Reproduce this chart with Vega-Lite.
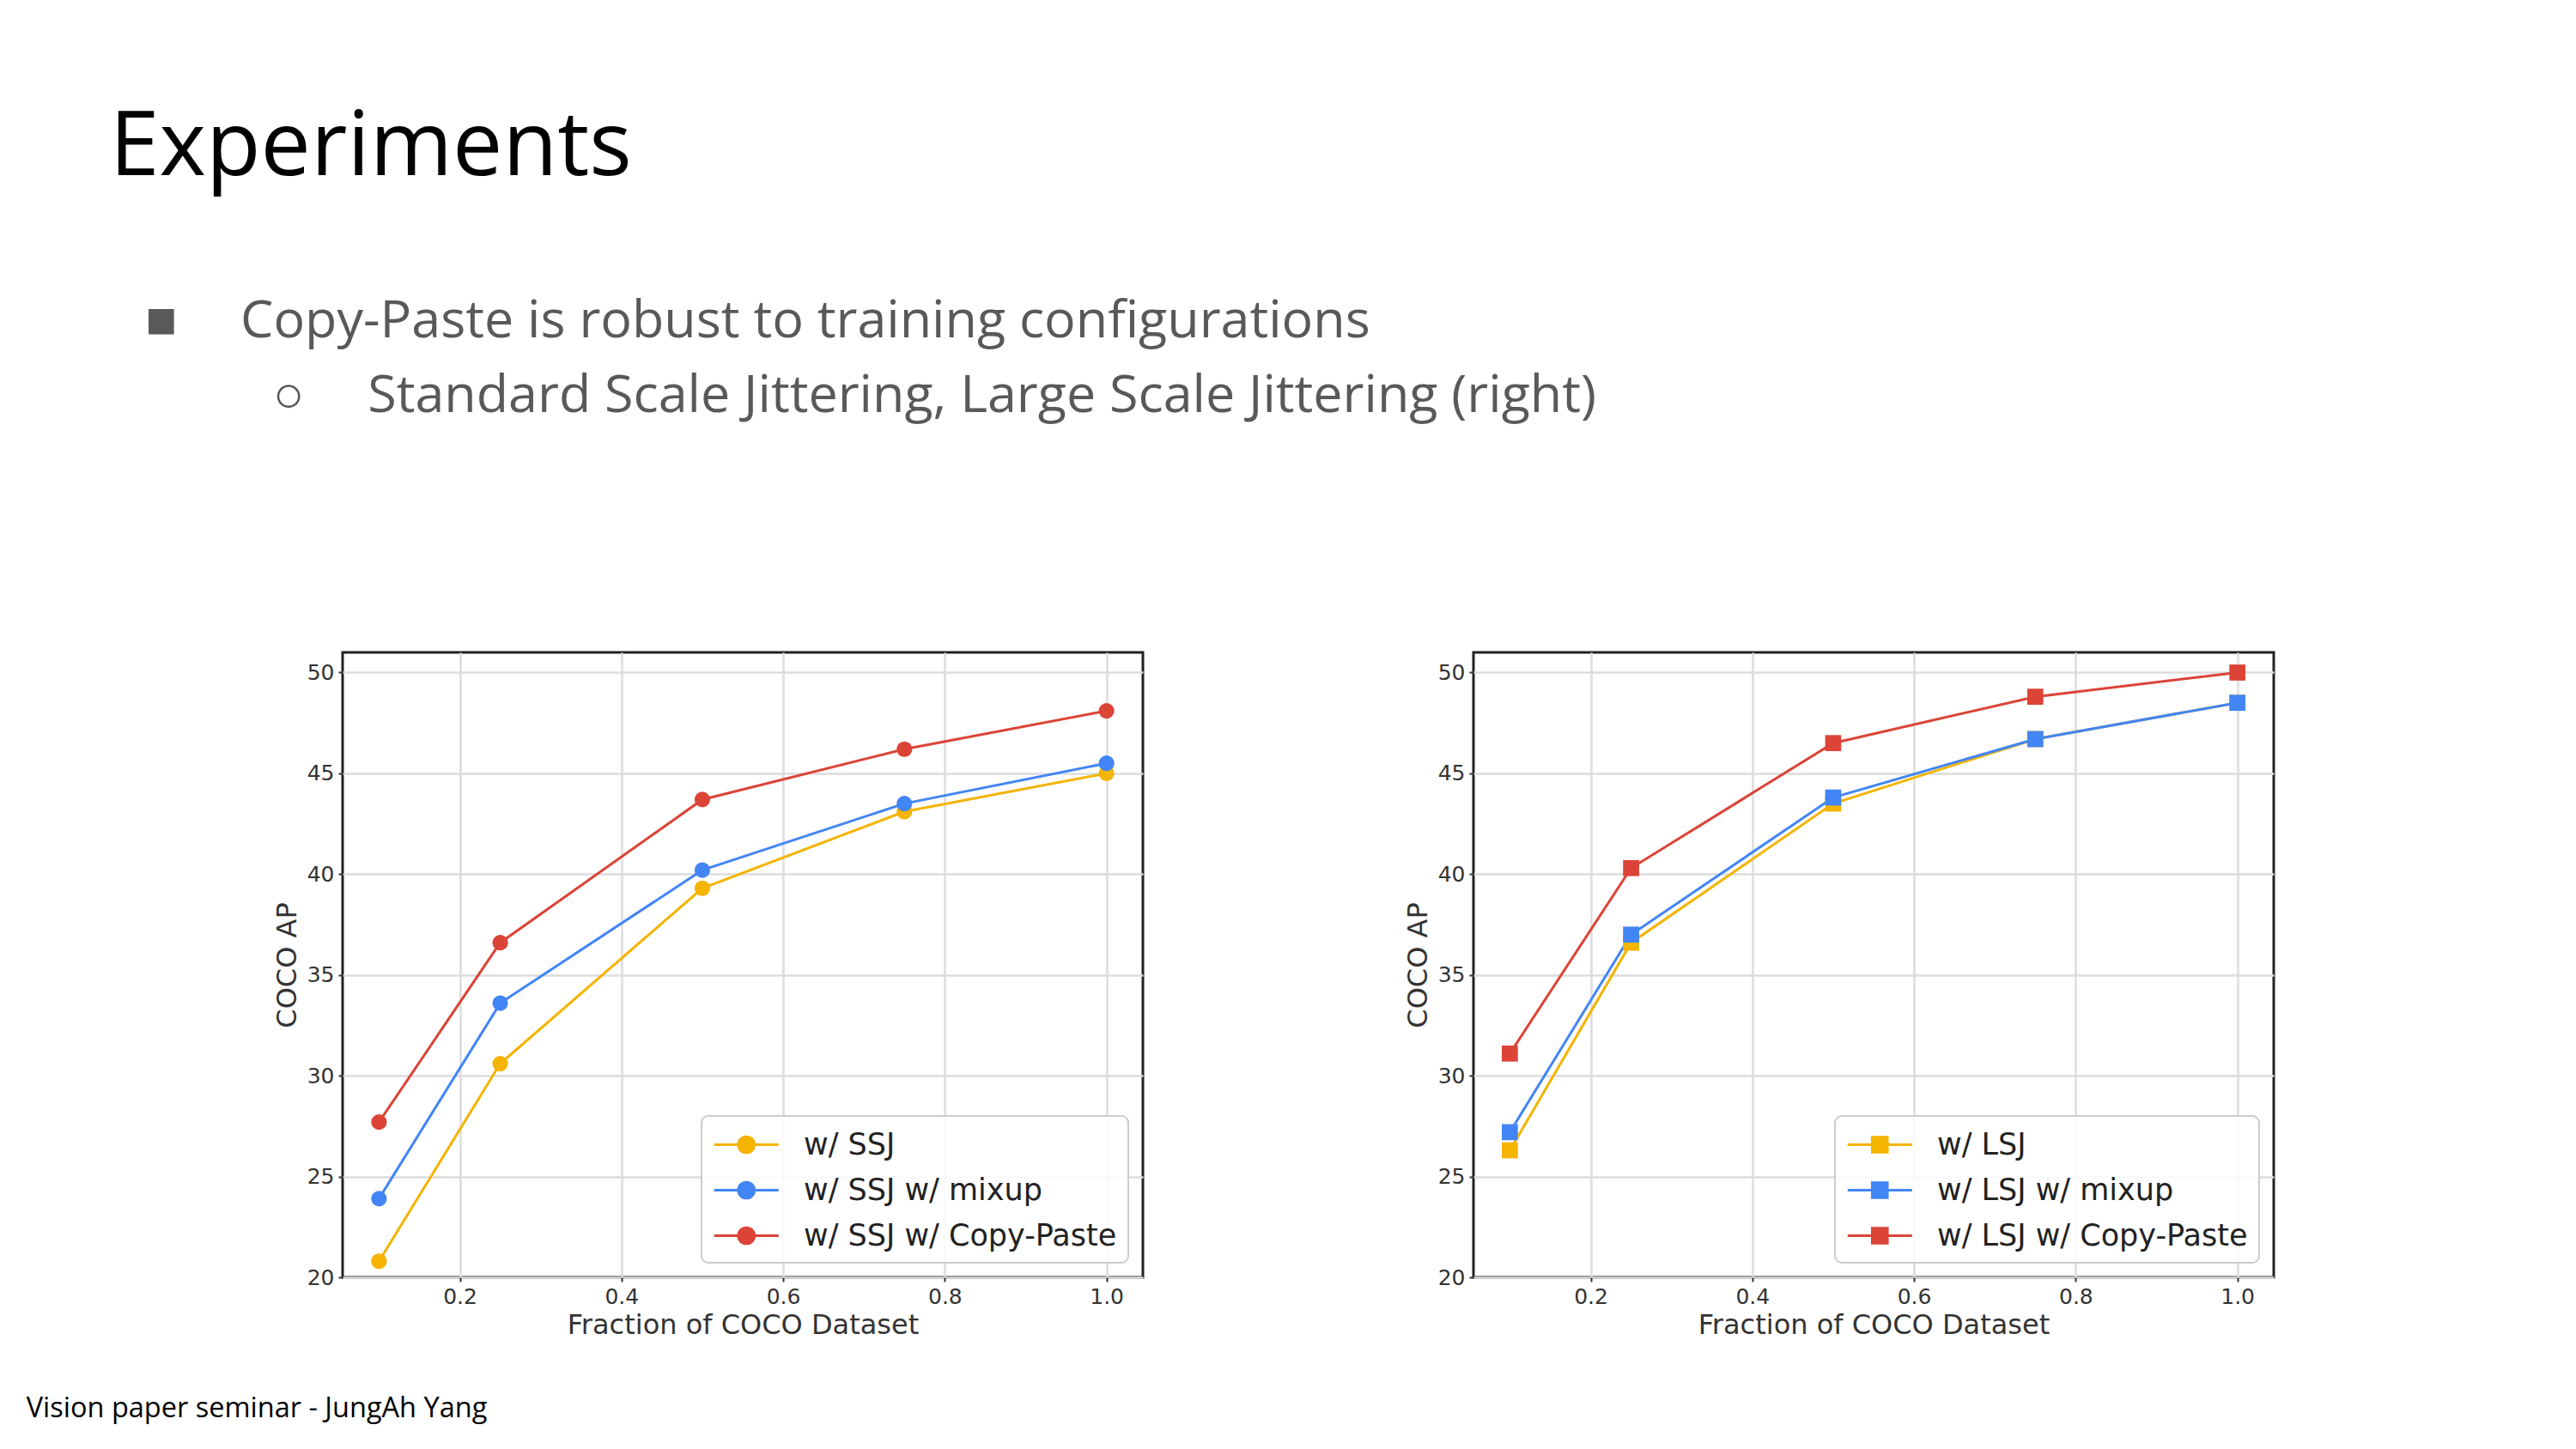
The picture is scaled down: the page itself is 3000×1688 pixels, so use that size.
{
  "$schema": "https://vega.github.io/schema/vega-lite/v6.json",
  "background": "white",
  "padding": {"left": 30, "top": 120, "right": 10, "bottom": 5},
  "title": {
    "text": "Experiments",
    "subtitle": ["\u200b\u00a0\u00a0\u2006■\u00a0\u00a0\u00a0\u00a0\u2006Copy-Paste is robust to training configurations", "\u200b\u00a0\u00a0\u00a0\u00a0\u00a0\u00a0\u00a0\u00a0\u00a0\u00a0\u00a0\u00a0○\u00a0\u00a0\u00a0\u00a0\u2006Standard Scale Jittering, Large Scale Jittering (right)"],
    "anchor": "start",
    "frame": "bounds",
    "font": "Open Sans",
    "fontSize": 104,
    "fontWeight": "normal",
    "color": "#000000",
    "subtitleFont": "Open Sans",
    "subtitleFontSize": 61,
    "subtitleColor": "#595959",
    "subtitleLineHeight": 87,
    "subtitlePadding": 119,
    "offset": 266,
    "dx": 97
  },
  "datasets": {
    "ssj": [
      {"series": "w/ SSJ", "frac": 0.1, "ap": 20.8},
      {"series": "w/ SSJ", "frac": 0.25, "ap": 30.6},
      {"series": "w/ SSJ", "frac": 0.5, "ap": 39.3},
      {"series": "w/ SSJ", "frac": 0.75, "ap": 43.1},
      {"series": "w/ SSJ", "frac": 1.0, "ap": 45.0},
      {"series": "w/ SSJ w/ mixup", "frac": 0.1, "ap": 23.9},
      {"series": "w/ SSJ w/ mixup", "frac": 0.25, "ap": 33.6},
      {"series": "w/ SSJ w/ mixup", "frac": 0.5, "ap": 40.2},
      {"series": "w/ SSJ w/ mixup", "frac": 0.75, "ap": 43.5},
      {"series": "w/ SSJ w/ mixup", "frac": 1.0, "ap": 45.5},
      {"series": "w/ SSJ w/ Copy-Paste", "frac": 0.1, "ap": 27.7},
      {"series": "w/ SSJ w/ Copy-Paste", "frac": 0.25, "ap": 36.6},
      {"series": "w/ SSJ w/ Copy-Paste", "frac": 0.5, "ap": 43.7},
      {"series": "w/ SSJ w/ Copy-Paste", "frac": 0.75, "ap": 46.2},
      {"series": "w/ SSJ w/ Copy-Paste", "frac": 1.0, "ap": 48.1}
    ],
    "lsj": [
      {"series": "w/ LSJ", "frac": 0.1, "ap": 26.3},
      {"series": "w/ LSJ", "frac": 0.25, "ap": 36.6},
      {"series": "w/ LSJ", "frac": 0.5, "ap": 43.5},
      {"series": "w/ LSJ", "frac": 0.75, "ap": 46.7},
      {"series": "w/ LSJ", "frac": 1.0, "ap": 48.5},
      {"series": "w/ LSJ w/ mixup", "frac": 0.1, "ap": 27.2},
      {"series": "w/ LSJ w/ mixup", "frac": 0.25, "ap": 37.0},
      {"series": "w/ LSJ w/ mixup", "frac": 0.5, "ap": 43.8},
      {"series": "w/ LSJ w/ mixup", "frac": 0.75, "ap": 46.7},
      {"series": "w/ LSJ w/ mixup", "frac": 1.0, "ap": 48.5},
      {"series": "w/ LSJ w/ Copy-Paste", "frac": 0.1, "ap": 31.1},
      {"series": "w/ LSJ w/ Copy-Paste", "frac": 0.25, "ap": 40.3},
      {"series": "w/ LSJ w/ Copy-Paste", "frac": 0.5, "ap": 46.5},
      {"series": "w/ LSJ w/ Copy-Paste", "frac": 0.75, "ap": 48.8},
      {"series": "w/ LSJ w/ Copy-Paste", "frac": 1.0, "ap": 50.0}
    ]
  },
  "vconcat": [
    {
      "title": {
        "text": "Vision paper seminar - JungAh Yang",
        "orient": "bottom",
        "anchor": "start",
        "frame": "bounds",
        "font": "Open Sans",
        "fontSize": 32.5,
        "fontWeight": "normal",
        "color": "#000000",
        "offset": 64,
        "dx": -286
      },
      "bounds": "flush",
      "spacing": 385,
      "resolve": {"scale": {"color": "independent"}, "legend": {"color": "independent"}},
      "hconcat": [
        {
          "width": 932,
          "height": 728,
          "data": {"name": "ssj"},
          "encoding": {
            "x": {"field": "frac", "type": "quantitative", "scale": {"domain": [0.055, 1.045], "nice": false, "zero": false},
                  "axis": {"title": "Fraction of COCO Dataset", "values": [0.2, 0.4, 0.6, 0.8, 1.0], "format": ".1f"}},
            "y": {"field": "ap", "type": "quantitative", "scale": {"domain": [20, 51], "nice": false, "zero": false},
                  "axis": {"title": "COCO AP", "values": [20, 25, 30, 35, 40, 45, 50], "format": "d"}},
            "color": {"field": "series", "type": "nominal",
                      "scale": {"domain": ["w/ SSJ", "w/ SSJ w/ mixup", "w/ SSJ w/ Copy-Paste"], "range": ["#F4B400", "#4285F4", "#DB4437"]},
                      "legend": {"symbolType": "M-1,0L3,0M0.5,0A0.5,0.5,0,1,1,1.5,0A0.5,0.5,0,1,1,0.5,0Z",
                                 "encode": {"symbols": {"update": {"fill": {"signal": "['#F4B400','#4285F4','#DB4437'][datum.index]"}, "stroke": {"signal": "['#F4B400','#4285F4','#DB4437'][datum.index]"}, "opacity": {"value": 1}}}}}}
          },
          "layer": [
            {"mark": {"type": "line", "strokeWidth": 3}},
            {"mark": {"type": "point", "filled": true, "shape": "circle", "size": 330, "opacity": 1}}
          ]
        },
        {
          "width": 932,
          "height": 728,
          "data": {"name": "lsj"},
          "encoding": {
            "x": {"field": "frac", "type": "quantitative", "scale": {"domain": [0.055, 1.045], "nice": false, "zero": false},
                  "axis": {"title": "Fraction of COCO Dataset", "values": [0.2, 0.4, 0.6, 0.8, 1.0], "format": ".1f"}},
            "y": {"field": "ap", "type": "quantitative", "scale": {"domain": [20, 51], "nice": false, "zero": false},
                  "axis": {"title": "COCO AP", "values": [20, 25, 30, 35, 40, 45, 50], "format": "d"}},
            "color": {"field": "series", "type": "nominal",
                      "scale": {"domain": ["w/ LSJ", "w/ LSJ w/ mixup", "w/ LSJ w/ Copy-Paste"], "range": ["#F4B400", "#4285F4", "#DB4437"]},
                      "legend": {"symbolType": "M-1,0L3,0M0.53,-0.47L1.47,-0.47L1.47,0.47L0.53,0.47Z",
                                 "encode": {"symbols": {"update": {"fill": {"signal": "['#F4B400','#4285F4','#DB4437'][datum.index]"}, "stroke": {"signal": "['#F4B400','#4285F4','#DB4437'][datum.index]"}, "opacity": {"value": 1}}}}}}
          },
          "layer": [
            {"mark": {"type": "line", "strokeWidth": 3}},
            {"mark": {"type": "point", "filled": true, "shape": "square", "size": 350, "opacity": 1}}
          ]
        }
      ]
    }
  ],
  "config": {
    "view": {"stroke": "#222222", "strokeWidth": 3},
    "axis": {
      "labelFont": "DejaVu Sans",
      "labelFontSize": 25,
      "labelColor": "#333333",
      "titleFont": "DejaVu Sans",
      "titleFontSize": 32,
      "titleFontWeight": "normal",
      "titleColor": "#333333",
      "domain": false,
      "tickColor": "#333333",
      "tickSize": 5,
      "tickWidth": 2,
      "gridColor": "#dcdcdc",
      "gridWidth": 2.5,
      "labelPadding": 5
    },
    "axisX": {"titlePadding": 5},
    "axisY": {"titlePadding": 6},
    "legend": {
      "orient": "bottom-right",
      "offset": 17,
      "padding": 13,
      "fillColor": "rgba(255,255,255,0.85)",
      "strokeColor": "#cccccc",
      "strokeWidth": 2,
      "cornerRadius": 8,
      "title": null,
      "labelFont": "DejaVu Sans",
      "labelFontSize": 35,
      "labelColor": "#222222",
      "labelOffset": 65,
      "labelLimit": 2000,
      "rowPadding": 14,
      "symbolSize": 1406,
      "symbolStrokeWidth": 3
    }
  }
}
